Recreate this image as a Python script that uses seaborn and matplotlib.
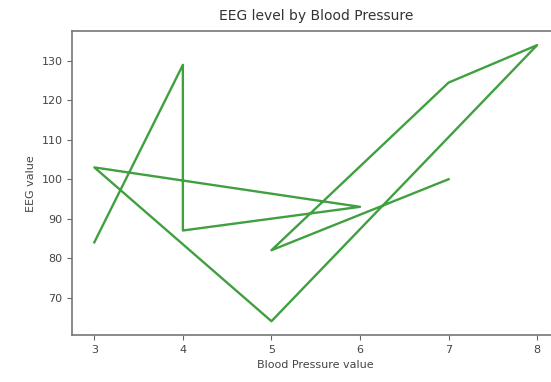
import matplotlib
matplotlib.use('Agg')
import matplotlib.pyplot as plt
import seaborn as sns
import pandas as pd

# valeurs, dans l'ordre du tracé
blood_pressure = [3, 4, 4, 6, 3, 5, 8, 7, 5, 7]
eeg = [84, 129, 87, 93, 103, 64, 134, 124.5, 82, 100]

df = pd.DataFrame({'Blood Pressure value': blood_pressure, 'EEG value': eeg})

fig, ax = plt.subplots(figsize=(5.51, 3.82), dpi=100)
sns.lineplot(data=df, x='Blood Pressure value', y='EEG value', sort=False,
             estimator=None, color='green', alpha=0.75, linewidth=1.7, ax=ax)
ax.set_title('EEG level by Blood Pressure', fontsize=10, color='#333333', pad=8)
ax.set_xlabel('Blood Pressure value', fontsize=8, color='#444444')
ax.set_ylabel('EEG value', fontsize=8, color='#444444')
ax.tick_params(labelsize=8, labelcolor='#444444', color='#666666')
ax.set_yticks([70, 80, 90, 100, 110, 120, 130])
for s in ax.spines.values():
    s.set_color('#777777')
    s.set_linewidth(1.2)
fig.subplots_adjust(left=0.131, right=1.015, top=0.918, bottom=0.123)
plt.savefig('out.png')
